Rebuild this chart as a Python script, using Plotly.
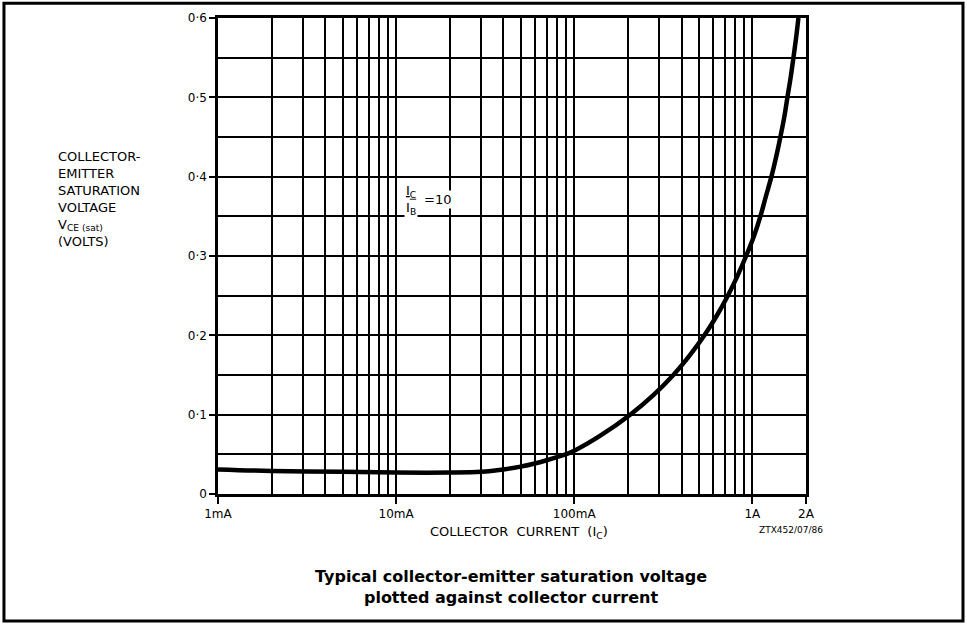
import plotly.graph_objects as go

# Collector current (mA) and VCE(sat) (V)
current_mA = [1, 2, 5, 10, 20, 30, 40, 50, 60, 70, 80, 91, 100, 140, 206, 279, 360,
              446, 538, 632, 728, 825, 922, 1020, 1109, 1190, 1279, 1360, 1436,
              1510, 1573, 1640, 1700, 1760, 1813]
vce_sat = [0.031, 0.029, 0.028, 0.027, 0.027, 0.028, 0.031, 0.0345, 0.0385, 0.0425, 0.0465,
           0.0505, 0.0545, 0.0735, 0.1, 0.125, 0.15, 0.175, 0.2, 0.225, 0.25, 0.275, 0.3,
           0.325, 0.35, 0.375, 0.4, 0.425, 0.45, 0.475, 0.5, 0.525, 0.55, 0.575, 0.6]

x_major_vals = [1, 10, 100, 1000, 2000]
x_major_text = ["1mA", "10mA", "100mA", "1A", "2A"]
x_minor_vals = [2, 3, 4, 5, 6, 7, 8, 9, 20, 30, 40, 50, 60, 70, 80, 90,
                200, 300, 400, 500, 600, 700, 800, 900]
y_major_vals = [0, 0.1, 0.2, 0.3, 0.4, 0.5, 0.6]
y_major_text = ["0", "0·1", "0·2", "0·3", "0·4", "0·5", "0·6"]
y_minor_vals = [0.05, 0.15, 0.25, 0.35, 0.45, 0.55]

FONT = "DejaVu Sans"

fig = go.Figure()
fig.add_trace(go.Scatter(
    x=current_mA, y=vce_sat, mode="lines",
    line=dict(color="black", width=4.5, shape="spline", smoothing=1.0),
    hoverinfo="skip", showlegend=False,
))

fig.update_layout(
    width=967, height=624,
    margin=dict(l=218, r=161, t=18, b=130, pad=0),
    paper_bgcolor="white", plot_bgcolor="white",
    font=dict(family=FONT, size=12, color="black"),
    showlegend=False,
)

fig.update_xaxes(
    type="log", range=[0, 3.30103],
    tickmode="array", tickvals=x_major_vals, ticktext=x_major_text,
    ticks="outside", ticklen=7, tickwidth=2, tickcolor="black",
    showgrid=True, gridcolor="black", gridwidth=2,
    minor=dict(tickmode="array", tickvals=x_minor_vals, showgrid=True,
               gridcolor="black", gridwidth=2, ticks=""),
    showline=True, linecolor="black", linewidth=2.5, mirror=True,
    zeroline=False, tickfont=dict(family=FONT, size=12, color="black"),
)
fig.update_yaxes(
    range=[0, 0.6],
    tickmode="array", tickvals=y_major_vals, ticktext=y_major_text,
    ticks="outside", ticklen=6, tickwidth=2, tickcolor="black",
    showgrid=True, gridcolor="black", gridwidth=2,
    minor=dict(tickmode="array", tickvals=y_minor_vals, showgrid=True,
               gridcolor="black", gridwidth=2, ticks=""),
    showline=True, linecolor="black", linewidth=2.5, mirror=True,
    zeroline=False, tickfont=dict(family=FONT, size=12, color="black"),
)

ann = []
ann.append(dict(
    x=-0.276, y=0.73, xref="paper", yref="paper", xanchor="left", yanchor="top",
    align="left", showarrow=False,
    text="COLLECTOR-<br>EMITTER<br>SATURATION<br>VOLTAGE<br>V<sub>CE (sat)</sub><br>(VOLTS)",
    font=dict(family=FONT, size=13, color="black"),
))
ann.append(dict(
    x=0.328, y=0.618, xref="paper", yref="paper", xanchor="center", yanchor="middle",
    showarrow=False, text="<u>I<sub>C</sub></u><br>I<sub>B</sub>",
    font=dict(family=FONT, size=13, color="black"), bgcolor="white",
))
ann.append(dict(
    x=0.347, y=0.618, xref="paper", yref="paper", xanchor="left", yanchor="middle",
    showarrow=False, text="=10", font=dict(family=FONT, size=13, color="black"),
    bgcolor="white",
))
ann.append(dict(
    x=0.512, y=-0.08, xref="paper", yref="paper", xanchor="center", yanchor="middle",
    showarrow=False, text="COLLECTOR  CURRENT  (I<sub>C</sub>)",
    font=dict(family=FONT, size=13, color="black"),
))
ann.append(dict(
    x=0.974, y=-0.076, xref="paper", yref="paper", xanchor="center", yanchor="middle",
    showarrow=False, text="ZTX452/07/86", font=dict(family=FONT, size=9, color="black"),
))
ann.append(dict(
    x=0.498, y=-0.196, xref="paper", yref="paper", xanchor="center", yanchor="middle",
    showarrow=False,
    text="<b>Typical collector-emitter saturation voltage<br>plotted against collector current</b>",
    font=dict(family=FONT, size=16, color="black"),
))
fig.update_layout(annotations=ann)

# outer frame of the figure
fig.add_shape(type="rect", xref="paper", yref="paper",
              x0=-0.364, x1=1.267, y0=-0.267, y1=1.031,
              line=dict(color="black", width=3), fillcolor="rgba(0,0,0,0)", layer="above")

fig.write_html("out.html", config={"displayModeBar": False},
               post_script="document.body.style.margin='0';")
